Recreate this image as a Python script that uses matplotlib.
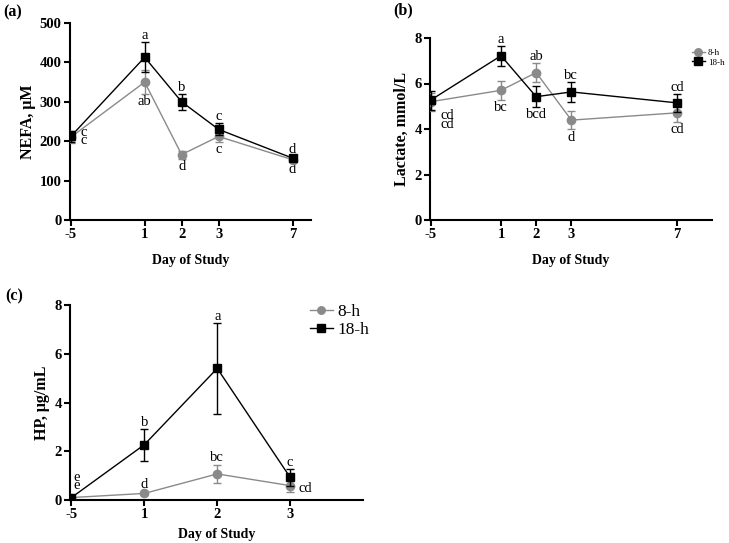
import matplotlib.pyplot as plt

plt.rcParams['font.family'] = ['Liberation Serif', 'DejaVu Serif']

days_long = ["-5", "1", "2", "3", "7"]
days_short = ["-5", "1", "2", "3"]

# (a) NEFA, uM
nefa_8h = [210, 350, 166, 212, 153]
nefa_8h_err = [15, 30, 10, 14, 5]
nefa_18h = [212, 413, 300, 230, 157]
nefa_18h_err = [15, 38, 20, 15, 5]
nefa_lab_8h = ["c", "ab", "d", "c", "d"]
nefa_lab_18h = ["c", "a", "b", "c", "d"]

# (b) Lactate, mmol/L
lac_8h = [5.2, 5.7, 6.48, 4.39, 4.71]
lac_8h_err = [0.4, 0.43, 0.43, 0.4, 0.4]
lac_18h = [5.27, 7.22, 5.42, 5.63, 5.15]
lac_18h_err = [0.42, 0.44, 0.45, 0.45, 0.4]
lac_lab_8h = ["cd", "bc", "ab", "d", "cd"]
lac_lab_18h = ["cd", "a", "bcd", "bc", "cd"]

# (c) HP, ug/mL
hp_8h = [0.1, 0.27, 1.07, 0.59]
hp_8h_err = [0.03, 0.05, 0.37, 0.25]
hp_18h = [0.1, 2.27, 5.4, 0.93]
hp_18h_err = [0.03, 0.66, 1.88, 0.35]
hp_lab_8h = ["e", "d", "bc", "cd"]
hp_lab_18h = ["e", "b", "a", "c"]

GRAY = "#8a8a8a"
LETTER = 10.5

fig = plt.figure(figsize=(7.29, 5.43), dpi=100)
W, H = 729, 543


def add_ax(l, t, r, b):
    return fig.add_axes([l / W, 1 - b / H, (r - l) / W, (b - t) / H])


def style(ax, xpos, xlabels, xlim, ylim, yticks, ylabel, xpad=9):
    ax.set_xlim(*xlim)
    ax.set_ylim(*ylim)
    ax.set_xticks(xpos)
    ax.set_xticklabels(xlabels)
    ax.set_yticks(yticks)
    for s in ["top", "right"]:
        ax.spines[s].set_visible(False)
    for s in ["left", "bottom"]:
        ax.spines[s].set_linewidth(1.5)
    ax.tick_params(width=1.5, length=4, labelsize=10.5, pad=2)
    for t in ax.get_xticklabels() + ax.get_yticklabels():
        t.set_fontweight("bold")
    ax.set_xlabel("Day of Study", fontsize=10, fontweight="bold", labelpad=xpad)
    ax.set_ylabel(ylabel, fontsize=11.5, fontweight="bold", labelpad=3)


def draw(ax, xpos, y8, e8, y18, e18):
    a = ax.errorbar(xpos, y8, yerr=e8, color=GRAY, marker="o", ms=6, lw=1,
                    capsize=3, elinewidth=1, zorder=3)
    b = ax.errorbar(xpos, y18, yerr=e18, color="black", marker="s", ms=6, lw=1,
                    capsize=3, elinewidth=1, zorder=4)
    # legend shows only line + marker, no error bar glyph
    return [a[0], b[0]], ["8-h", "18-h"]


def note(ax, x, y, txt, dy, dx=0, va="bottom", **kw):
    ax.annotate(txt, (x, y), xytext=(dx, dy), textcoords="offset points",
                ha="center", va=va, fontsize=LETTER, **kw)


# ---- (a)
xa = [0, 2, 3, 4, 6]
ax1 = add_ax(70, 23, 311, 220)
draw(ax1, xa, nefa_8h, nefa_8h_err, nefa_18h, nefa_18h_err)
style(ax1, xa, days_long, (-0.02, 6.5), (0, 500), range(0, 501, 100), "NEFA, μM")
for i, x in enumerate(xa):
    if i == 0:
        note(ax1, x, nefa_18h[i], nefa_lab_18h[i] + "\n" + nefa_lab_8h[i], 0,
             dx=9, va="center", linespacing=0.45)
        continue
    hi = nefa_18h[i] + nefa_18h_err[i]
    lo = nefa_8h[i] - nefa_8h_err[i]
    note(ax1, x, hi, nefa_lab_18h[i], 0)
    note(ax1, x, lo, nefa_lab_8h[i], -1, va="top")
fig.text(3 / W, 1 - 12 / H, "(a)", fontsize=11.5, fontweight="bold", va="center")

# ---- (b)
xb = [0, 2, 3, 4, 7]
ax2 = add_ax(430, 38, 712, 220)
h, l = draw(ax2, xb, lac_8h, lac_8h_err, lac_18h, lac_18h_err)
style(ax2, xb, days_long, (-0.02, 8), (0, 8), range(0, 9, 2), "Lactate, mmol/L")
above_b = {1: "18", 2: "8", 3: "18", 4: "18"}
for i, x in enumerate(xb):
    if i == 0:
        note(ax2, x, lac_8h[i], lac_lab_18h[i] + "\n" + lac_lab_8h[i], -5,
             dx=12, va="top", linespacing=0.6)
        continue
    if above_b[i] == "18":
        note(ax2, x, lac_18h[i] + lac_18h_err[i], lac_lab_18h[i], 0)
        note(ax2, x, lac_8h[i] - lac_8h_err[i], lac_lab_8h[i], -1, va="top")
    else:
        note(ax2, x, lac_8h[i] + lac_8h_err[i], lac_lab_8h[i], 0)
        note(ax2, x, lac_18h[i] - lac_18h_err[i], lac_lab_18h[i], -1, va="top")
fig.legend(h, l, loc="upper left", bbox_to_anchor=(688 / W, 1 - 45 / H),
           frameon=False, fontsize=6.5, handlelength=1.5, handletextpad=0.3,
           labelspacing=0.15, borderaxespad=0, markerscale=0.9)
fig.text(393 / W, 1 - 10 / H, "(b)", fontsize=11.5, fontweight="bold", va="center")

# ---- (c)
xc = [0, 1, 2, 3]
ax3 = add_ax(70, 305, 363, 500)
h, l = draw(ax3, xc, hp_8h, hp_8h_err, hp_18h, hp_18h_err)
style(ax3, xc, days_short, (-0.02, 4), (0, 8), range(0, 9, 2), "HP, μg/mL",
      xpad=5)
note(ax3, xc[0], hp_18h[0], hp_lab_18h[0] + "\n" + hp_lab_8h[0], 4, dx=4,
     linespacing=0.5)
for i in (1, 2):
    note(ax3, xc[i], hp_18h[i] + hp_18h_err[i], hp_lab_18h[i], 0)
    note(ax3, xc[i], hp_8h[i] + hp_8h_err[i], hp_lab_8h[i], 1)
note(ax3, xc[3], hp_18h[3] + hp_18h_err[3], hp_lab_18h[3], 0)
note(ax3, xc[3], hp_8h[3], hp_lab_8h[3], -2, dx=11, va="center")
ax3.legend(h, l, loc="upper left", bbox_to_anchor=(303 / W, 1 - 297 / H),
           bbox_transform=fig.transFigure, frameon=False, fontsize=12.5,
           handlelength=1.3, handletextpad=0.3, labelspacing=0.1,
           borderaxespad=0, markerscale=0.9)
fig.text(5 / W, 1 - 296 / H, "(c)", fontsize=11.5, fontweight="bold", va="center")

plt.savefig("out.png", dpi=100)
